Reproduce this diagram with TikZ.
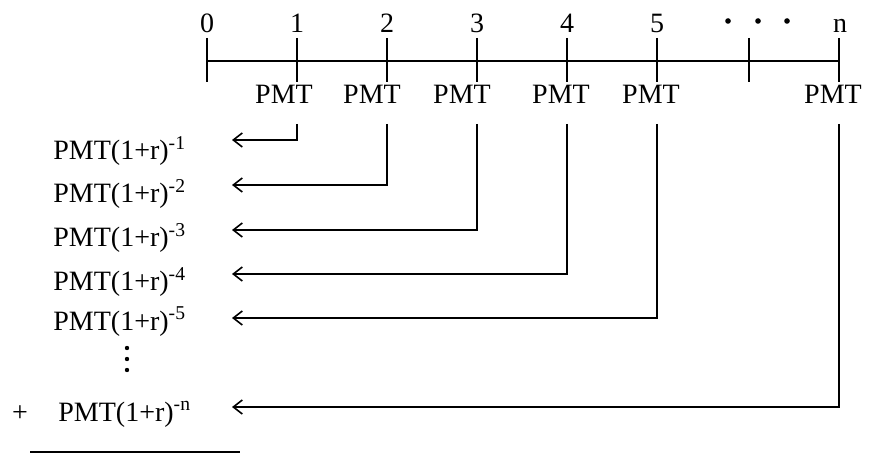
\documentclass[tikz,border=0pt]{standalone}
\usepackage{fontspec}
\setmainfont{Liberation Serif}
\usetikzlibrary{arrows.meta}

\begin{document}
\begin{tikzpicture}[
    x=0.5pt, y=-0.5pt,
    lbl/.style={font=\fontsize{14}{16}\selectfont, inner sep=0pt, anchor=base},
    pv/.style={lbl, anchor=base west},
    tickline/.style={line width=0.6pt},
    arrow/.style={-{Straight Barb[length=4.5pt,width=7pt,line width=0.8pt]}, line width=0.6pt}
]
\useasboundingbox (0,0) rectangle (870,453);

% time line
\foreach \i/\x in {0/207,1/297,2/387,3/477,4/567,5/657,g/749,n/839}
    \coordinate (t\i) at (\x,61);
\draw[line width=0.7pt] (t0) -- (tn);
\foreach \i in {0,1,2,3,4,5,g,n}
    \draw[tickline] (t\i) ++(0,-23) -- ++(0,44);

\foreach \i in {0,1,2,3,4,5}
    \node[lbl] (k\i) at (t\i |- 0,33) {\i};
\node[lbl] (kn) at (840,33) {n};
\foreach \x in {728,758,787}
    \fill (\x,21) circle (1.4pt);

% payments
\foreach \i/\x in {1/284,2/372,3/462,4/561,5/651,n/833}
    \node[lbl] (p\i) at (\x,104) {PMT};

% present values
\coordinate (top) at (0,124);
\foreach \i/\r/\b in {1/140/160,2/185/203,3/230/247,4/274/291,5/318/330} {
    \node[pv] (v\i) at (53,\b) {PMT(1+r)\textsuperscript{-\i}};
    \coordinate (a\i) at (232,\r);
    \draw[arrow] (t\i |- top) |- (a\i);
}
\foreach \y in {348,359,370}
    \fill (127,\y) circle (1.1pt);

\node[pv] (vn) at (58,421) {PMT(1+r)\textsuperscript{-n}};
\node[lbl] (plus) at (20,421) {+};
\coordinate (an) at (232,407);
\draw[arrow] (tn |- top) |- (an);

\draw[line width=0.7pt] (30,452) -- (240,452);
\end{tikzpicture}
\end{document}
